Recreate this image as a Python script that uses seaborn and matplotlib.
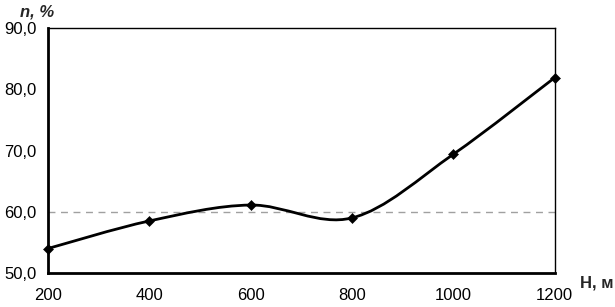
import numpy as np
import pandas as pd
import matplotlib
matplotlib.use("Agg")
import matplotlib.pyplot as plt
from matplotlib.path import Path
from matplotlib.patches import PathPatch
import seaborn as sns

heights = [200, 400, 600, 800, 1000, 1200]
n_pct = [54.0, 58.5, 61.1, 59.0, 69.4, 81.9]
ref_level = 60.0
x_ticks = [200, 400, 600, 800, 1000, 1200]
y_ticks = [50, 60, 70, 80, 90]

sns.set_style("white")
plt.rcParams['font.family'] = ['Liberation Sans', 'DejaVu Sans']

df = pd.DataFrame({"H": heights, "n": n_pct})

fig = plt.figure(figsize=(6.15, 3.07), dpi=100)
ax = fig.add_axes([0.078, 0.1107, 0.824, 0.798])

# smoothed line like a spreadsheet chart: cubic Bezier segments through the points
pts = np.column_stack([df["H"], df["n"]]).astype(float)
verts = [pts[0]]
codes = [Path.MOVETO]
for i in range(len(pts) - 1):
    p_prev = pts[i - 1] if i > 0 else pts[i]
    p_next2 = pts[i + 2] if i + 2 < len(pts) else pts[i + 1]
    c1 = pts[i] + (pts[i + 1] - p_prev) / 6
    c2 = pts[i + 1] - (p_next2 - pts[i]) / 6
    verts += [c1, c2, pts[i + 1]]
    codes += [Path.CURVE4] * 3
ax.add_patch(PathPatch(Path(verts, codes), facecolor="none", edgecolor="black",
                       lw=2.0, zorder=3, clip_on=False))

sns.scatterplot(data=df, x="H", y="n", marker="D", s=26, color="black",
                edgecolor="black", zorder=4, clip_on=False, ax=ax)

ax.axhline(ref_level, color="#a0a0a0", lw=1, ls=(0, (5, 4)), zorder=2)

ax.set_xlim(200, 1200)
ax.set_ylim(50, 90)
ax.set_xticks(x_ticks)
ax.set_yticks(y_ticks)
ax.set_xticklabels([str(v) for v in x_ticks])
ax.set_yticklabels([f"{v:.1f}".replace(".", ",") for v in y_ticks])
ax.tick_params(axis="both", direction="out", length=5, width=1.5, color="black",
               labelsize=12, labelcolor="black", pad=3)
ax.tick_params(axis="x", pad=6)
ax.set_xlabel("")
ax.set_ylabel("")

for side in ["left", "bottom"]:
    ax.spines[side].set_linewidth(2.0)
    ax.spines[side].set_color("black")
for side in ["top", "right"]:
    ax.spines[side].set_linewidth(1.0)
    ax.spines[side].set_color("black")

fig.text(20 / 615, 1 - 12 / 307, "n, %", fontsize=12, fontweight="bold",
         fontstyle="italic", va="center", ha="left")
fig.text(613 / 615, 1 - 283 / 307, "H, м", fontsize=12, fontweight="bold",
         va="center", ha="right")

fig.savefig("out.png", dpi=100)
